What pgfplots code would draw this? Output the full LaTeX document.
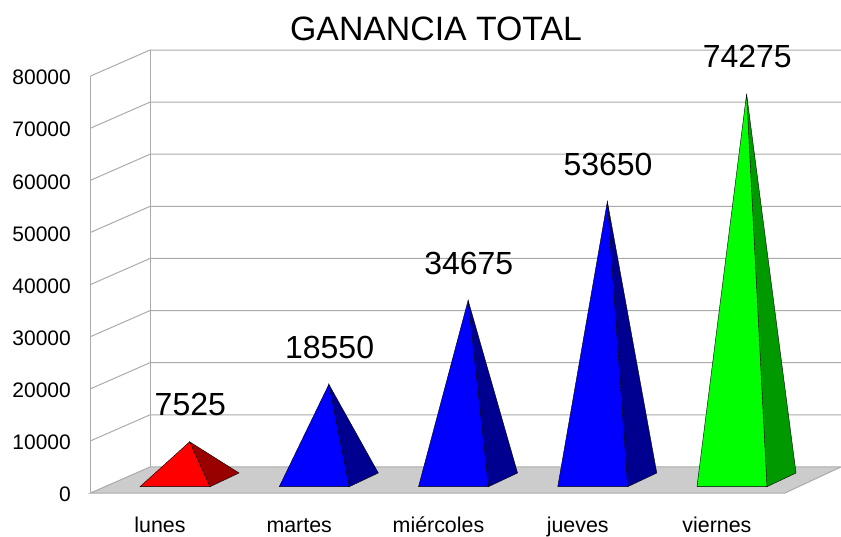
\documentclass[border=0pt]{standalone}
\usepackage{pgfplots}
\usepackage{pgfplotstable}
\pgfplotsset{compat=1.18}
\usepackage{fontspec}
\setmainfont{Liberation Sans}
\definecolor{gridc}{HTML}{ABABAB}
\definecolor{floorc}{HTML}{CCCCCC}
\definecolor{rojoosc}{HTML}{990000}
\definecolor{azulosc}{HTML}{000090}
\definecolor{verdeosc}{HTML}{009900}
\pgfplotstableread{
x val
0.11 7525
1.11 18550
2.11 34675
3.11 53650
4.11 74275
}\ganancia
% #1 category index, #2 value, #3 front colour, #4 side colour
\newcommand\pyr[4]{%
  \addplot[fill=#4,draw=black,line width=0.4pt,forget plot,y filter/.expression={y+2300}]
    coordinates {({#1+0.2513},-1090) ({#1+0.46},1540) ({#1+0.105},#2)} -- cycle;
  \addplot[fill=#3,draw=black,line width=0.4pt,forget plot,y filter/.expression={y+2300}]
    coordinates {({#1-0.2513},-1090) ({#1+0.2513},-1090) ({#1+0.105},#2)} -- cycle;
}
\begin{document}
\begin{tikzpicture}[x=1pt,y=1pt]
\useasboundingbox (-90.5pt,-43pt) rectangle (750.5pt,493pt);
\begin{axis}[
  scale only axis, width=750.5pt, height=443pt,
  xmin=-0.607, xmax=4.783, ymin=0, ymax=85000,
  clip=false,
  axis line style={draw=none},
  major tick length=0pt,
  tick style={draw=none},
  scaled y ticks=false,
  /pgf/number format/assume math mode=true,
  /pgf/number format/1000 sep={},
  ytick={0,10000,20000,30000,40000,50000,60000,70000,80000},
  xtick={-0.108,0.892,1.892,2.892,3.892},
  xticklabels={lunes,martes,miércoles,jueves,viernes},
  yticklabel style={font=\fontsize{21}{21}\selectfont,anchor=east,inner sep=0pt,xshift=-19.5pt,yshift=-1.5pt},
  xticklabel style={font=\fontsize{21.4}{21.4}\selectfont,anchor=base,inner sep=0pt,yshift=-39pt},
  title={GANANCIA TOTAL},
  title style={font=\fontsize{33.8}{33.8}\selectfont,at={(rel axis cs:0.4604,1)},anchor=center,inner sep=0pt,yshift=15pt},
]
% floor
\addplot[fill=floorc,draw=gridc,line width=1pt,forget plot]
  coordinates {(-0.607,0) (-0.1795,5000) (4.783,5000) (4.381,0)} -- cycle;
% walls
\draw[gridc,line width=1pt] (axis cs:-0.607,0) -- (axis cs:-0.607,80000);
\draw[gridc,line width=1pt] (axis cs:-0.1795,5000) -- (axis cs:-0.1795,85000);
\pgfplotsinvokeforeach{10000,20000,30000,40000,50000,60000,70000,80000}{
  \addplot[gridc,line width=1pt,forget plot]
    coordinates {(-0.607,#1) (-0.1795,#1+5000) (4.783,#1+5000)};
}
\pyr{0}{7525}{red}{rojoosc}
\pyr{1}{18550}{blue}{azulosc}
\pyr{2}{34675}{blue}{azulosc}
\pyr{3}{53650}{blue}{azulosc}
\pyr{4}{74275}{green}{verdeosc}
\addplot[draw=none,mark=none,forget plot,y filter/.expression={y+2300},
  point meta=rawy,nodes near coords,
  every node near coord/.append style={font=\fontsize{32}{32}\selectfont,anchor=center,inner sep=0pt,yshift=37pt,
     /pgf/number format/fixed,/pgf/number format/precision=0}]
  table[x=x,y=val] {\ganancia};
\end{axis}
\end{tikzpicture}
\end{document}
